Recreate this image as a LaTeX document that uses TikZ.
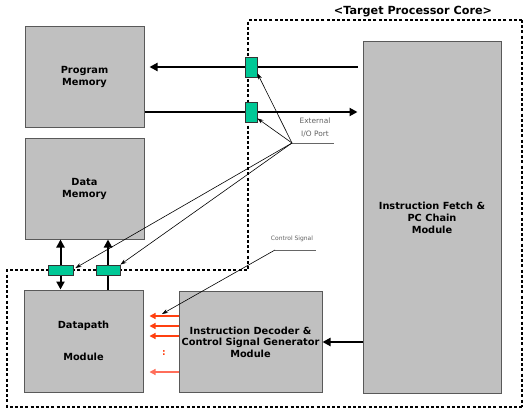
\documentclass[tikz,border=0pt]{standalone}
\usepackage{fontspec}
\setmainfont{DejaVu Sans}
\usetikzlibrary{arrows.meta}
\definecolor{boxgray}{RGB}{192,192,192}
\definecolor{portgreen}{RGB}{0,200,150}
\definecolor{sigred}{RGB}{255,64,16}
\definecolor{sigpink}{RGB}{255,110,90}
\tikzset{block/.style={draw=black!65, fill=boxgray, line width=1pt, align=center,
         inner sep=0pt, font=\bfseries\fontsize{9.8}{12}\selectfont}}
\tikzset{port/.style={draw=black!80, fill=portgreen, line width=0.8pt, inner sep=0pt}}
\tikzset{bus/.style={line width=2pt, arrows={-Triangle[length=8pt,width=8pt]}}}
\tikzset{note/.style={text=black!62, align=center}}
\tikzset{pointer/.style={line width=0.6pt, -{Stealth[length=6pt,width=4pt]}}}
\tikzset{ctrl/.style={line width=1.2pt, -{Triangle[length=6pt,width=6pt]}}}

\begin{document}
\begin{tikzpicture}[x=1pt,y=-1pt]
    \useasboundingbox (0,0) rectangle (524,409);
    % core boundary
    \draw[line width=2.6pt, dash pattern=on 3pt off 2.2pt] (522,20)--(248,20)--(248,270)
      --(7,270)--(7,407)--(522,407);
    \draw[line width=1.6pt, dash pattern=on 3pt off 2.2pt] (522,20)--(522,407);
    \node[font=\bfseries\fontsize{11.2}{13}\selectfont] (core) at (413,12) {<Target Processor Core>};

    \node[block, minimum width=119pt, minimum height=100pt] (progmem) at (84.5,77) {Program\\Memory};
    \node[block, minimum width=119pt, minimum height=101pt] (datamem) at (84.5,188.5) {Data\\Memory};
    \node[block, minimum width=119pt, minimum height=102pt] (datapath) at (83.5,341) {Datapath\\[20pt]Module};
    \node[block, minimum width=143pt, minimum height=101pt] (decoder) at (250.5,342)
      {Instruction Decoder \&\\[-0.5pt]Control Signal Generator\\[-0.5pt]Module};
    \node[block, minimum width=138pt, minimum height=351pt] (fetch) at (432,217.5)
      {Instruction Fetch \&\\PC Chain\\Module};

    % buses, the I/O ports sit on top of them
    \coordinate (pa) at (251,67);
    \coordinate (pb) at (251,112);
    \coordinate (pc) at (60.5,270);
    \coordinate (pd) at (108,270);
    \draw[bus] ([xshift=-5pt]fetch.west |- pa) -- ([xshift=5pt]progmem.east |- pa);
    \draw[bus] (progmem.east |- pb) -- ([xshift=-5pt]fetch.west |- pb);
    \draw[bus, arrows={Triangle[length=8pt,width=8pt]-Triangle[length=8pt,width=8pt]}]
      (datamem.south -| pc) -- (datapath.north -| pc);
    \draw[bus] (datapath.north -| pd) -- (datamem.south -| pd);
    \draw[bus] (fetch.west |- decoder.east) -- (decoder.east);
    \node[port, minimum width=12pt, minimum height=20pt] (porta) at (pa) {};
    \node[port, minimum width=12pt, minimum height=20pt] (portb) at (pb) {};
    \node[port, minimum width=25pt, minimum height=10pt] (portc) at (pc) {};
    \node[port, minimum width=24pt, minimum height=10pt] (portd) at (pd) {};

    % control signals
    \foreach \y in {316,326,336}
      \draw[ctrl, sigred] (decoder.west |- 0,\y) -- ++(-29,0);
    \draw[ctrl, sigpink] (decoder.west |- 0,372) -- ++(-29,0);
    \node[text=sigred, font=\bfseries\fontsize{9}{10}\selectfont] (dots) at (164,353) {:};

    % labels
    \node[note, font=\fontsize{7.4}{13}\selectfont] (extlabel) at (315,128) {External\\I/O Port};
    \coordinate (ext) at (292,143);
    \draw[black!60, line width=0.8pt] (ext) -- (334,143);
    \draw[pointer] (ext) -- ([yshift=4pt]porta.south east);
    \draw[pointer] (ext) -- ([yshift=4pt]portb.south east);
    \draw[pointer] (ext) -- ([xshift=2pt,yshift=2pt]portc.east);
    \draw[pointer] (ext) -- (portd.north east);
    \node[note, font=\fontsize{6}{8}\selectfont] (ctrllabel) at (292,239) {Control Signal};
    \coordinate (ctl) at (275,250);
    \draw[black!60, line width=0.8pt] (ctl) -- (316,250);
    \draw[pointer] (ctl) -- (162,314);
\end{tikzpicture}
\end{document}
